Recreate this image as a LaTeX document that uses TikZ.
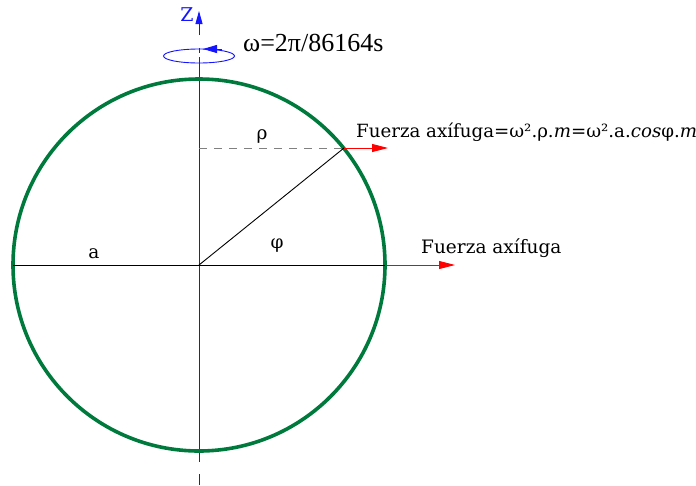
\documentclass[tikz,border=0pt]{standalone}
\usepackage{fontspec}
\setmainfont{DejaVu Serif}
\newfontfamily\omegafont{Liberation Serif}
\usetikzlibrary{arrows.meta}
\definecolor{earthgreen}{RGB}{0,122,60}
\definecolor{axisblue}{RGB}{20,20,255}
\definecolor{forcered}{RGB}{255,0,0}
\tikzset{
  earth/.style={draw=earthgreen, line width=3.6pt},
  axisline/.style={draw=axisblue, line width=0.9pt},
  thin black/.style={draw=black, line width=0.9pt},
  force/.style={draw=forcered, line width=0.9pt, -{Triangle[length=16pt,width=8pt]}},
  lbl/.style={inner sep=0pt, font=\fontsize{18.5}{20}\selectfont},
}
\begin{document}
\begin{tikzpicture}[x=1pt,y=-1pt]
\useasboundingbox (0,0) rectangle (696,485);
% coordinates
\coordinate (O) at (199,265);
\coordinate (L) at (13,265);
\coordinate (R) at (385,265);
\coordinate (P) at (344,148);
\coordinate (Q) at (199,148);
\coordinate (Rtip) at (455,265);
\coordinate (Ptip) at (388,148);
% axis
\coordinate (Ztop) at (199,11);
\coordinate (Za) at (199,35);
\coordinate (Zb) at (199,48);
\coordinate (Zc) at (199,53);
\coordinate (Zd) at (199,57);
\coordinate (Ze) at (199,462);
\coordinate (Zf) at (199,474);
\coordinate (Zg) at (199,485);
\draw[axisline, -{Triangle[length=13pt,width=7pt]}] (Za) -- (Ztop);
\draw[axisline] (Zb) -- (Zc);
\draw[axisline] (Zd) -- (Ze);
\draw[axisline] (Zf) -- (Zg);
% rotation ellipse
\coordinate (E) at (199,56);
\draw[axisblue, line width=0.9pt] (E) ellipse [x radius=35.5, y radius=7];
\coordinate (Earr) at (203,49);
\coordinate (Earrb) at (222,49);
\draw[axisblue, line width=0.9pt, -{Triangle[length=14pt,width=8pt]}] (Earrb) -- (Earr);
\node[lbl, text=axisblue, font=\fontsize{19}{20}\selectfont] (zlabel) at (187,15) {Z};
\node[lbl, anchor=base west, font=\omegafont\fontsize{26}{28}\selectfont] (omega) at (243,51) {ω=2π/86164s};
% earth
\draw[earth] (O) circle [radius=186];
% lines
\draw[thin black] (L) -- (R);
\draw[thin black] (O) -- (P);
\draw[gray, line width=0.8pt, dash pattern=on 8pt off 7pt] (Q) -- (P);
\draw[force] (R) -- (Rtip);
\draw[force] (P) -- (Ptip);
% labels
\node[lbl, anchor=base] (alabel) at (94,258) {a};
\node[lbl, anchor=base] (philabel) at (277,248) {φ};
\node[lbl, anchor=base] (rholabel) at (262,139) {ρ};
\node[lbl, anchor=base west] (f1) at (421,253) {Fuerza axífuga};
\node[lbl, anchor=base west, font=\fontsize{18.2}{20}\selectfont] (f2) at (356,137) {Fuerza axífuga=ω².ρ.\textit{m}=ω².a.\textit{cos}φ.\textit{m}};
\end{tikzpicture}
\end{document}
